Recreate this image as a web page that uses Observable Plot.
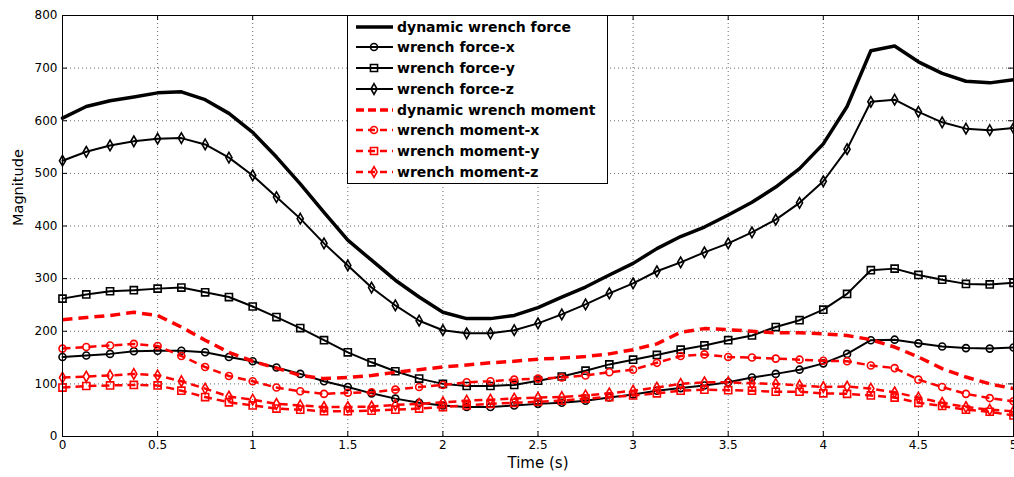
<!DOCTYPE html>
<html><head><meta charset="utf-8">
<script src="https://cdn.jsdelivr.net/npm/d3@7"></script>
<script src="https://cdn.jsdelivr.net/npm/@observablehq/plot@0.6"></script>
<style>
html,body{margin:0;padding:0;background:#fff;}
#wrap{position:relative;width:1014px;height:477px;overflow:hidden;}
#legend{position:absolute;left:347px;top:15px;width:259px;height:167px;border:1px solid #000;background:#fff;font:bold 14px "DejaVu Sans";color:#000;}
#legend .row{position:absolute;left:0;height:20px;width:259px;}
#legend .row svg{position:absolute;left:0;top:0;}
#legend .row span{position:absolute;left:49px;top:1px;white-space:nowrap;line-height:18px;}
</style></head><body><div id="wrap"><div id="legend"></div></div>
<script>
const time = [0,0.125,0.25,0.375,0.5,0.625,0.75,0.875,1,1.125,1.25,1.375,1.5,1.625,1.75,1.875,2,2.125,2.25,2.375,2.5,2.625,2.75,2.875,3,3.125,3.25,3.375,3.5,3.625,3.75,3.875,4,4.125,4.25,4.375,4.5,4.625,4.75,4.875,5];
const xTicks = [0,0.5,1,1.5,2,2.5,3,3.5,4,4.5,5];
const yTicks = [0,100,200,300,400,500,600,700,800];

const dynForce = [605,627,638,645,653,655,640,614,578,531,480,426,373,335,297,265,236,224,224,230,245,265,284,307,329,357,380,398,421,445,474,509,556,627,733,742,712,690,675,672,678];
const forceX   = [151,154,157,162,163,163,160,151,143,131,119,105,94,82,72,64,59,56,56,59,62,64,68,74,80,87,92,97,103,112,119,127,139,157,183,184,177,171,168,167,169];
const forceY   = [262,270,276,278,281,283,274,265,247,227,206,183,160,141,124,110,100,96,96,98,106,114,125,137,146,155,165,173,183,192,208,221,241,271,316,319,307,298,290,289,292];
const forceZ   = [524,541,553,561,566,567,555,530,496,455,414,367,325,283,249,220,202,196,196,202,215,232,251,272,291,314,331,350,367,388,412,444,485,546,636,640,617,597,585,582,586];
const dynMoment= [222,226,230,236,230,208,183,160,143,130,116,110,112,116,122,127,132,136,140,143,147,149,152,157,165,176,198,205,203,200,197,197,195,192,184,170,151,129,113,100,91];
const momentX  = [167,170,173,176,172,153,132,115,105,93,86,81,83,84,89,94,98,103,105,108,110,112,116,122,127,140,153,156,151,150,148,146,144,143,135,130,108,94,81,73,67];
const momentY  = [93,96,97,98,97,87,75,65,59,53,51,48,48,49,51,53,56,59,62,64,66,68,72,75,78,82,87,89,88,87,85,85,82,81,78,74,64,58,51,47,40];
const momentZ  = [112,114,116,119,116,105,91,76,70,62,59,56,56,57,60,62,65,68,70,72,74,75,78,82,87,93,100,103,103,101,100,97,94,95,91,84,74,64,56,51,48];

const seriesNames = ["dynamic wrench force","wrench force-x","wrench force-y","wrench force-z","dynamic wrench moment","wrench moment-x","wrench moment-y","wrench moment-z"];
const seriesValues = [dynForce, forceX, forceY, forceZ, dynMoment, momentX, momentY, momentZ];

const styles = [
  {color:"#000", width:3.5, dash:null, symbol:null},
  {color:"#000", width:2, dash:null, symbol:"circle", r:3.5},
  {color:"#000", width:2, dash:null, symbol:"square", r:4},
  {color:"#000", width:2, dash:null, symbol:"diamond", r:3.2},
  {color:"#f00", width:3.5, dash:"10,6", symbol:null},
  {color:"#f00", width:2.5, dash:"8,5", symbol:"circle", r:3.5},
  {color:"#f00", width:2.5, dash:"8,5", symbol:"square", r:4},
  {color:"#f00", width:2.5, dash:"8,5", symbol:"diamond", r:3.2}
];

const frameH = 477 - 15 - 41;
const frameW = 1014 - 62 - 1;
const gridStyle = {stroke:"#000", strokeOpacity:0.6, strokeDasharray:"1,3", strokeWidth:1};

const marks = [
  Plot.ruleX(xTicks.slice(1,-1), {x:d=>d, ...gridStyle}),
  Plot.ruleY(yTicks.slice(1,-1), {y:d=>d, ...gridStyle}),
  Plot.tickX(xTicks, {x:d=>d, insetTop:frameH-5, stroke:"#000"}),
  Plot.tickX(xTicks, {x:d=>d, insetBottom:frameH-5, stroke:"#000"}),
  Plot.tickY(yTicks, {y:d=>d, insetRight:frameW-5, stroke:"#000"}),
  Plot.tickY(yTicks, {y:d=>d, insetLeft:frameW-5, stroke:"#000"}),
];

seriesNames.forEach((name, k) => {
  const s = styles[k];
  const data = time.map((t,i) => ({t, v: seriesValues[k][i]}));
  marks.push(Plot.line(data, {x:"t", y:"v", stroke:s.color, strokeWidth:s.width,
    strokeDasharray:s.dash || undefined, strokeLinecap: s.dash ? "butt" : "round", strokeLinejoin:"round"}));
  if (s.symbol) {
    marks.push(Plot.dot(data, {x:"t", y:"v", symbol:()=>s.symbol, r:s.r, stroke:s.color, strokeWidth:1.6, fill:"none"}));
  }
});

marks.push(
  Plot.frame({stroke:"#000", strokeWidth:1}),
  Plot.axisX(xTicks, {tickSize:0, tickPadding:4, tickFormat:d=>String(d), label:null, fontSize:12}),
  Plot.axisY(yTicks, {tickSize:0, tickPadding:5, tickFormat:d=>String(d), label:null, fontSize:12}),
  Plot.text(["Time (s)"], {frameAnchor:"bottom", dy:31, fontSize:15, fill:"#000"}),
  Plot.text(["Magnitude"], {frameAnchor:"left", dx:-44, rotate:-90, fontSize:14.5, fill:"#000"})
);

const chart = Plot.plot({
  width:1014, height:477,
  marginLeft:62, marginRight:1, marginTop:15, marginBottom:41,
  style:{fontFamily:"DejaVu Sans", fontSize:"12px", background:"#fff", color:"#000"},
  x:{domain:[0,5], ticks:xTicks},
  y:{domain:[0,800], ticks:yTicks},
  symbol:{type:"identity"},
  marks
});
const wrap = document.getElementById("wrap");
wrap.insertBefore(chart, wrap.firstChild);

// Legend
const legend = document.getElementById("legend");
seriesNames.forEach((name, k) => {
  const s = styles[k];
  const row = document.createElement("div");
  row.className = "row";
  row.style.top = (0.7 + 20.7*k) + "px";
  const svg = d3.create("svg").attr("width", 48).attr("height", 20);
  svg.append("line").attr("x1", 8).attr("x2", 45).attr("y1", 10).attr("y2", 10)
    .attr("stroke", s.color).attr("stroke-width", s.width)
    .attr("stroke-dasharray", s.dash ? (k === 4 ? "8,4" : "7,5") : null);
  if (s.symbol) {
    const sym = {circle:d3.symbolCircle, square:d3.symbolSquare, diamond:d3.symbolDiamond}[s.symbol];
    svg.append("path").attr("transform","translate(26,10)")
      .attr("d", d3.symbol(sym, Math.PI*s.r*s.r)())
      .attr("fill","none").attr("stroke", s.color).attr("stroke-width",1.6);
  }
  row.appendChild(svg.node());
  const span = document.createElement("span");
  span.textContent = name;
  row.appendChild(span);
  legend.appendChild(row);
});
</script>
</body></html>
